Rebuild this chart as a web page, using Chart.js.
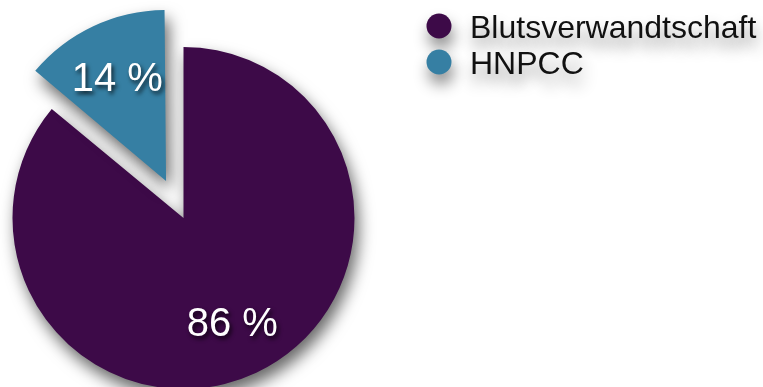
<!DOCTYPE html>
<html>
<head>
<meta charset="utf-8">
<script src="https://cdn.jsdelivr.net/npm/chart.js@4/dist/chart.umd.min.js"></script>
<style>
  html, body { margin: 0; padding: 0; background: #ffffff; }
  #wrap { width: 763px; height: 387px; position: relative; }
</style>
</head>
<body>
<div id="wrap"><canvas id="chart" width="763" height="387"></canvas></div>
<script>
// Anteil der Fälle nach Ursache
const categories = ['Blutsverwandtschaft', 'HNPCC'];
const shares = [86, 14];
const sliceColors = ['#3d0a48', '#367fa3'];
const valueLabels = ['86 %', '14 %'];
const sliceOffsets = [0, 164];

const FONT = '"Liberation Sans", Arial, Helvetica, sans-serif';

// An offset arc is pushed out by offset/4 and also grows by a radial fix-up;
// shrink it back so every slice keeps the same radius.
const evenRadius = {
  id: 'evenRadius',
  afterDatasetsUpdate(chart) {
    chart.getDatasetMeta(0).data.forEach((arc) => {
      const off = (arc.options.offset || 0) / 4;
      if (!off) return;
      const circ = arc.endAngle - arc.startAngle;
      const fix = 1 - Math.sin(Math.min(Math.PI, circ));
      arc.outerRadius = arc.outerRadius - off * fix;
    });
  }
};

// soft drop shadow under the pie slices
const sliceShadow = {
  id: 'sliceShadow',
  beforeDatasetsDraw(chart) {
    const ctx = chart.ctx;
    ctx.save();
    ctx.shadowColor = 'rgba(0,0,0,0.6)';
    ctx.shadowBlur = 16;
    ctx.shadowOffsetX = 4;
    ctx.shadowOffsetY = 9;
  },
  afterDatasetsDraw(chart) {
    chart.ctx.restore();
  }
};

// white percentage text inside each slice
const sliceLabels = {
  id: 'sliceLabels',
  afterDatasetsDraw(chart) {
    const ctx = chart.ctx;
    const meta = chart.getDatasetMeta(0);
    ctx.save();
    ctx.font = '40px ' + FONT;
    ctx.fillStyle = '#ffffff';
    ctx.textAlign = 'center';
    ctx.textBaseline = 'alphabetic';
    ctx.shadowColor = 'rgba(0,0,0,0.75)';
    ctx.shadowBlur = 4;
    ctx.shadowOffsetX = 2;
    ctx.shadowOffsetY = 3;
    meta.data.forEach((arc, i) => {
      const mid = (arc.startAngle + arc.endAngle) / 2;
      const d = (arc.options.offset || 0) / 4 + 171 * 0.67;
      const x = arc.x + Math.cos(mid) * d;
      const y = arc.y + Math.sin(mid) * d;
      ctx.fillText(valueLabels[i], x, y + 14);
    });
    ctx.restore();
  }
};

// legend with round markers at the top right
const sideLegend = {
  id: 'sideLegend',
  afterDraw(chart) {
    const ctx = chart.ctx;
    const labels = chart.data.labels;
    const colors = chart.data.datasets[0].backgroundColor;
    ctx.save();
    ctx.shadowColor = 'rgba(0,0,0,0.45)';
    ctx.shadowBlur = 15;
    ctx.shadowOffsetX = 2;
    ctx.shadowOffsetY = 10;
    labels.forEach((label, i) => {
      const baseY = 38 + i * 36;
      ctx.beginPath();
      ctx.arc(439, baseY - 12, 12.5, 0, Math.PI * 2);
      ctx.fillStyle = colors[i];
      ctx.fill();
      ctx.font = '32px ' + FONT;
      ctx.fillStyle = '#111111';
      ctx.textAlign = 'left';
      ctx.textBaseline = 'alphabetic';
      ctx.fillText(label, 470, baseY);
    });
    ctx.restore();
  }
};

new Chart(document.getElementById('chart'), {
  type: 'pie',
  data: {
    labels: categories,
    datasets: [{
      data: shares,
      backgroundColor: sliceColors,
      borderWidth: 0,
      offset: sliceOffsets,
      clip: false
    }]
  },
  options: {
    responsive: false,
    animation: false,
    events: [],
    radius: 171,
    layout: { padding: { left: 14.5, right: 410.5, top: 49, bottom: 0 } },
    plugins: {
      legend: { display: false },
      tooltip: { enabled: false }
    }
  },
  plugins: [evenRadius, sliceShadow, sliceLabels, sideLegend]
});
</script>
</body>
</html>
